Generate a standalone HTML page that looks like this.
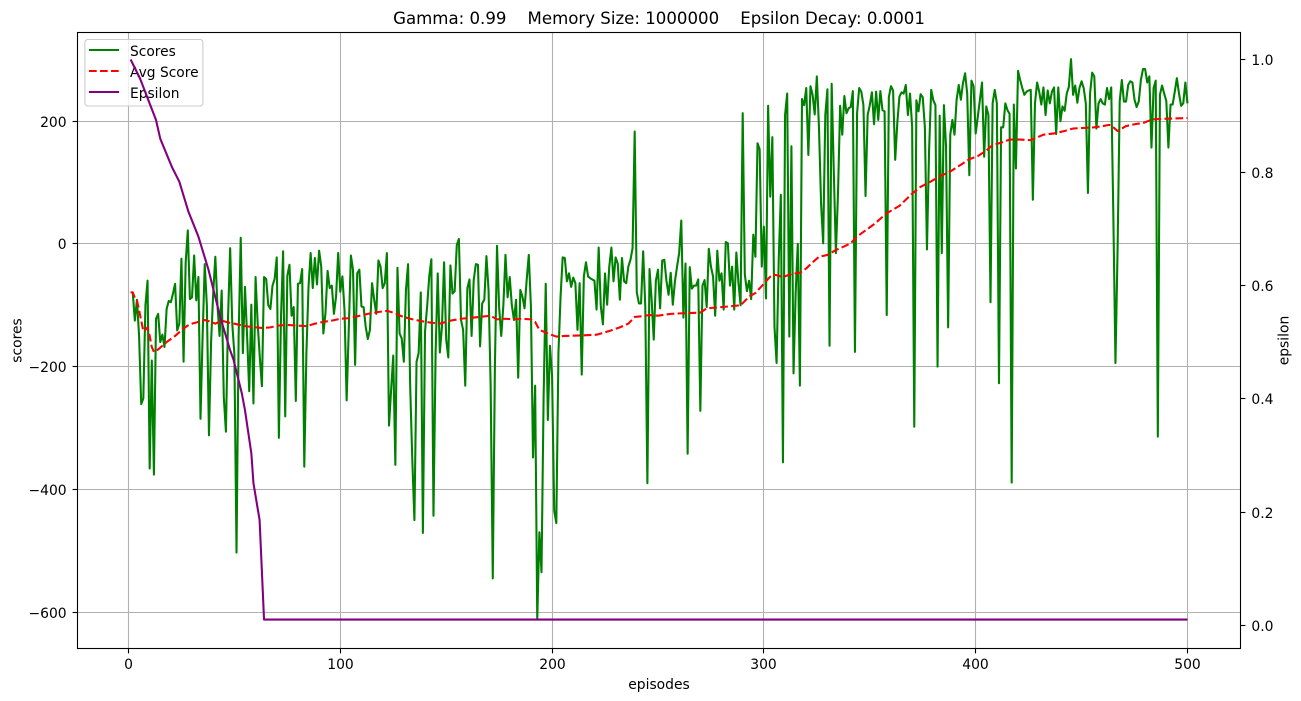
<!DOCTYPE html>
<html lang="en">
<head>
<meta charset="utf-8">
<title>Gamma: 0.99 training chart</title>
<style>
  html, body { margin: 0; padding: 0; background: #ffffff; }
  svg { display: block; }
  text { font-family: "DejaVu Sans", "Liberation Sans", sans-serif; fill: #000000; }
</style>
</head>
<body>
<svg id="chart" xmlns="http://www.w3.org/2000/svg" width="1301" height="701" viewBox="0 0 1301 701">
  <rect x="0" y="0" width="1301" height="701" fill="#ffffff"></rect>
  <rect x="77.5" y="32.5" width="1163" height="616" fill="#ffffff"></rect>
  <defs>
    <clipPath id="plot-clip"><rect x="77.5" y="32.5" width="1163" height="616"></rect></clipPath>
  </defs>
  <g id="grid"></g>
  <g clip-path="url(#plot-clip)">
    <path id="scores-line" fill="none" stroke="#008000" stroke-width="2.08" stroke-linejoin="round" stroke-linecap="butt"></path>
    <path id="avg-line" fill="none" stroke="#ff0000" stroke-width="2.08" stroke-linejoin="round" stroke-dasharray="7.7 3.3"></path>
  </g>
  <g>
    <rect x="84.9" y="39.5" width="118" height="66.5" rx="2.8" ry="2.8" fill="#ffffff" fill-opacity="0.8" stroke="#cccccc" stroke-width="1.1"></rect>
    <line x1="89" y1="50" x2="119" y2="50" stroke="#008000" stroke-width="2.08"></line>
    <text x="130" y="56" font-size="13.8">Scores</text>
    <line x1="89" y1="71" x2="119" y2="71" stroke="#ff0000" stroke-width="2.08" stroke-dasharray="7.7 3.3"></line>
    <text x="130" y="77" font-size="13.8">Avg Score</text>
    <line x1="89" y1="92" x2="119" y2="92" stroke="#800080" stroke-width="2.08"></line>
    <text x="130" y="98" font-size="13.8">Epsilon</text>
  </g>
  <g clip-path="url(#plot-clip)">
    <path id="epsilon-line" fill="none" stroke="#800080" stroke-width="2.08" stroke-linejoin="round"></path>
  </g>
  <g id="ticks"></g>
  <rect x="77.5" y="32.5" width="1163" height="616" fill="none" stroke="#000000" stroke-width="1.1"></rect>
  <text x="659" y="24" font-size="16.6" text-anchor="middle" xml:space="preserve" style="white-space:pre">Gamma: 0.99    Memory Size: 1000000    Epsilon Decay: 0.0001</text>
  <text x="659" y="689" font-size="13.89" text-anchor="middle">episodes</text>
  <text transform="translate(21.5,340.5) rotate(-90)" font-size="13.89" text-anchor="middle">scores</text>
  <text transform="translate(1288.5,340.5) rotate(-90)" font-size="13.89" text-anchor="middle">epsilon</text>
</svg>
<script>
const scores = [
-79,-79,-125,-91,-150,-261,-252,-100,-60,-366,
-190,-376,-122,-114,-160,-148,-168,-106,-93,-95,
-81,-65,-141,-130,-24,-192,-30,22,-90,-87,
-19,-92,-54,-285,-150,-33,-100,-312,-160,-80,
-21,-100,-150,-76,-250,-306,-120,-7,-130,-180,
-503,-150,10,-178,-70,-150,-240,-99,-260,-54,
-130,-185,-232,-54,-57,-100,-106,-68,-57,-22,
-316,-120,-12,-281,-52,-34,-117,-103,-256,-65,
-64,-41,-363,-178,-70,-15,-72,-23,-66,-11,
-37,-146,-113,-44,-72,-68,-114,-86,-15,-78,
-53,-108,-255,-140,-19,-42,-197,-48,-42,-102,
-103,-135,-155,-140,-64,-91,-114,-27,-37,-72,
-64,-15,-296,-238,-182,-360,-39,-146,-154,-192,
-75,-33,-232,-352,-450,-192,-178,-79,-471,-143,
-102,-53,-25,-443,-178,-48,-177,-135,-30,-156,
-185,-35,-81,-77,-2,8,-124,-140,-231,-72,
-58,-150,-59,-33,-34,-167,-97,-91,-20,-75,
-232,-545,-200,-3,-104,-150,-100,-18,-87,-54,
-100,-124,-91,-218,-75,-86,-105,-59,-18,-102,
-348,-231,-612,-470,-535,-250,-65,-287,-166,-216,
-435,-455,-178,-86,-22,-23,-61,-48,-70,-55,
-64,-140,-64,-213,-53,-30,-53,-56,-58,-60,
-107,-6,-102,-131,-48,-99,-37,-6,-61,-22,
-32,-91,-23,-61,-64,-37,-26,-7,183,-79,
-97,-97,-12,-102,-390,-41,-91,-156,-60,-42,
-105,-27,-26,-60,-83,-47,-99,-61,-37,-15,
38,-120,-32,-342,-38,-73,-68,-68,-58,-272,
-68,-59,-103,-8,-37,-53,-117,-11,-60,-48,
-107,3,1,-68,-37,-107,-14,-64,-100,213,
-50,-77,-60,-90,15,-21,164,154,-37,28,
-89,225,77,174,-135,-194,-26,80,-356,210,
245,-151,159,-211,-80,0,-231,236,226,254,
145,257,243,211,273,191,66,1,210,252,
-166,261,120,-15,83,225,178,241,213,221,
223,249,-176,213,254,248,226,78,210,226,
247,195,248,202,249,218,216,-116,239,257,
250,137,197,240,247,245,259,210,245,191,
-298,234,216,244,239,191,-9,153,251,234,
226,-200,209,-15,226,159,-136,178,202,178,
235,259,235,262,278,245,112,266,257,180,
207,235,263,142,224,210,-95,229,251,229,
-227,190,190,229,218,212,-389,227,123,282,
267,254,243,248,250,251,72,229,263,248,
227,255,210,250,229,248,255,179,255,200,
224,217,245,256,301,243,258,230,254,265,
254,229,83,245,279,273,188,229,236,229,
227,254,236,255,45,-194,-10,232,267,232,
232,259,265,263,235,223,232,267,285,285,
263,273,157,254,266,-314,243,258,245,233,
157,227,227,248,270,245,225,229,263,229
];

const avgEpisodes = [1,2,3,4,5,6,7,8,9,10,11,12,14,16,18,20,22,24,26,28,30,32,34,36,38,41,44,47,50,55,60,63,67,71,75,79,84,88,92,96,100,104,108,113,118,122,126,129,133,137,142,147,152,157,163,171,174,178,182,186,190,192,194,198,202,206,215,221,227,232,236,239,242,246,250,256,262,270,273,280,286,289,293,296,300,302,304,306,309,313,317,320,323,326,330,334,338,341,344,348,352,358,364,370,374,378,383,388,393,397,401,405,408,412,416,421,426,432,437,442,446,451,456,460,463,465,467,469,471,475,479,482,484,490,500];
const avgScores = [-79,-79,-88,-92,-108,-125,-142,-140,-136,-150,-168,-176,-172,-166,-160,-155,-150,-144,-138,-133,-130,-128,-126,-124,-126,-130,-125,-128,-130,-134,-136,-137,-136,-133,-132,-133,-134,-130,-127,-125,-122,-121,-118,-114,-111,-109,-113,-118,-122,-125,-128,-130,-125,-122,-120,-117,-123,-122,-123,-122,-123,-127,-140,-146,-151,-150,-149,-148,-142,-136,-130,-119,-118,-116,-117,-114,-113,-112,-105,-103,-101,-100,-86,-80,-65,-57,-50,-51,-54,-49,-47,-40,-30,-21,-18,-10,-4,1,12,22,32,50,62,82,93,100,110,118,129,138,143,152,161,165,170,170,169,178,180,184,188,189,190,192,194,190,184,188,192,195,197,201,203,204,205];

const epsilonEpisodes = [1,5.5,9.4,13,15,20.5,24,28.3,33,37.8,43.3,48,49.6,53.5,55,58,59,61.9,64,500];
const epsilonValues = [1,0.966,0.928,0.893,0.86,0.81,0.784,0.731,0.687,0.628,0.545,0.486,0.469,0.41,0.38,0.304,0.251,0.186,0.01,0.01];

const xTicks = [0,100,200,300,400,500];
const yLeftTicks = [-600,-400,-200,0,200];
const yRightTicks = [0,0.2,0.4,0.6,0.8,1];

const AX_L = 78, AX_R = 1240, AX_T = 32, AX_B = 648;
const FRAME_L = 77.5, FRAME_R = 1240.5, FRAME_T = 32.5, FRAME_B = 648.5;
const X_MIN = -23.84, X_MAX = 524.8;
const YL_MIN = -658.5, YL_MAX = 345.3;
const YR_MIN = -0.0403, YR_MAX = 1.0486;

function xScale(v) { return AX_L + (v - X_MIN) / (X_MAX - X_MIN) * (AX_R - AX_L); }
function yLeftScale(v) { return AX_B - (v - YL_MIN) / (YL_MAX - YL_MIN) * (AX_B - AX_T); }
function yRightScale(v) { return AX_B - (v - YR_MIN) / (YR_MAX - YR_MIN) * (AX_B - AX_T); }
function snap(p) { return Math.floor(p) + 0.5; }

function pathFrom(xs, ys, fx, fy) {
  let d = '';
  for (let i = 0; i < ys.length; i++) {
    d += (i ? 'L' : 'M') + fx(xs[i]).toFixed(2) + ' ' + fy(ys[i]).toFixed(2);
  }
  return d;
}

const NS = 'http://www.w3.org/2000/svg';
const scoreEpisodes = scores.map(function (_, i) { return i + 1; });
document.getElementById('scores-line').setAttribute('d', pathFrom(scoreEpisodes, scores, xScale, yLeftScale));
document.getElementById('avg-line').setAttribute('d', pathFrom(avgEpisodes, avgScores, xScale, yLeftScale));
document.getElementById('epsilon-line').setAttribute('d', pathFrom(epsilonEpisodes, epsilonValues, xScale, yRightScale));

const gridG = document.getElementById('grid');
const ticksG = document.getElementById('ticks');

function makeLine(parent, x1, y1, x2, y2, color) {
  const el = document.createElementNS(NS, 'line');
  el.setAttribute('x1', x1);
  el.setAttribute('y1', y1);
  el.setAttribute('x2', x2);
  el.setAttribute('y2', y2);
  el.setAttribute('stroke', color);
  el.setAttribute('stroke-width', '1.1');
  parent.appendChild(el);
  return el;
}
function makeLabel(x, y, anchor, content) {
  const el = document.createElementNS(NS, 'text');
  el.setAttribute('x', x);
  el.setAttribute('y', y);
  el.setAttribute('font-size', '13.89');
  el.setAttribute('text-anchor', anchor);
  el.textContent = content;
  ticksG.appendChild(el);
  return el;
}

xTicks.forEach(function (t) {
  const x = snap(xScale(t));
  const g = makeLine(gridG, x, FRAME_T, x, FRAME_B, '#b0b0b0');
  
  
  const m = makeLine(ticksG, x, FRAME_B, x, FRAME_B + 4.9, '#000000');
  
  
  const l = makeLabel(x, 669, 'middle', String(t));
  
  
});
yLeftTicks.forEach(function (t) {
  const y = snap(yLeftScale(t));
  const g = makeLine(gridG, FRAME_L, y, FRAME_R, y, '#b0b0b0');
  
  
  const m = makeLine(ticksG, FRAME_L - 4.9, y, FRAME_L, y, '#000000');
  
  
  const l = makeLabel(FRAME_L - 10.9, y + 5.6, 'end', String(t).replace('-', '\u2212'));
  
  
});
yRightTicks.forEach(function (t) {
  const y = snap(yRightScale(t));
  const m = makeLine(ticksG, FRAME_R, y, FRAME_R + 4.9, y, '#000000');
  
  
  const l = makeLabel(FRAME_R + 10.9, y + 5.6, 'start', t.toFixed(1));
  
  
});
</script>
</body>
</html>
